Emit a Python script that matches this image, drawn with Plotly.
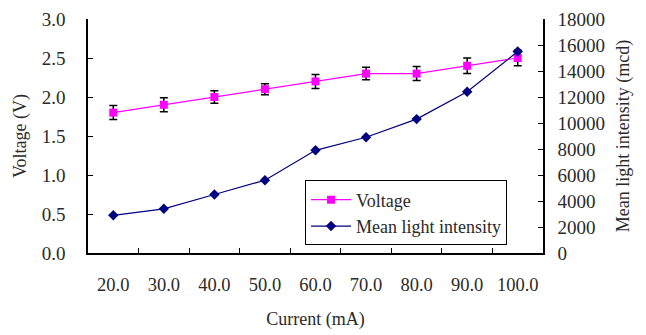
import plotly.graph_objects as go

current_labels = ["20.0", "30.0", "40.0", "50.0", "60.0", "70.0", "80.0", "90.0", "100.0"]
voltage = [1.8, 1.9, 2.0, 2.1, 2.2, 2.3, 2.3, 2.4, 2.5]
voltage_err = [0.09, 0.09, 0.08, 0.07, 0.09, 0.08, 0.09, 0.1, 0.1]
intensity = [2900, 3400, 4500, 5600, 7900, 8900, 10300, 12400, 15500]

FONT = "Liberation Serif"
TXT = "#2a2a2a"
fig = go.Figure()
fig.add_trace(go.Scatter(
    x=current_labels, y=voltage, name="Voltage", mode="lines+markers",
    line=dict(color="#FF00FF", width=1.2),
    marker=dict(symbol="square", size=8, color="#FF00FF"),
    error_y=dict(type="data", array=voltage_err, visible=True, color="black", thickness=1.5, width=4),
))
fig.add_trace(go.Scatter(
    x=current_labels, y=intensity, name="Mean light intensity", mode="lines+markers",
    line=dict(color="#000080", width=1.2),
    marker=dict(symbol="diamond", size=8, color="#000080"),
    yaxis="y2",
))
fig.update_layout(
    width=638, height=327,
    margin=dict(l=80, r=103, t=11, b=82),
    paper_bgcolor="white", plot_bgcolor="white",
    font=dict(family=FONT, size=18, color=TXT),
    showlegend=True,
    legend=dict(x=0.477, y=0.31, xanchor="left", yanchor="top",
                bordercolor="black", borderwidth=1, bgcolor="white",
                font=dict(family=FONT, size=18, color=TXT),
                tracegroupgap=0, itemwidth=40),
    xaxis=dict(type="category", range=[-0.5, 8.5], showline=True, linecolor="black", linewidth=1.5,
               ticks="inside", ticklen=5, tickcolor="black", tickson="boundaries",
               showgrid=False, zeroline=False, ticklabelstandoff=14, tickangle=0, automargin=False,
               tickfont=dict(size=18.5),
               title=dict(text="Current (mA)", standoff=18, font=dict(size=18))),
    yaxis=dict(range=[0, 3], dtick=0.5, tickformat=".1f", showline=True, linecolor="black", linewidth=1.5,
               ticks="inside", ticklen=5, tickcolor="black", showgrid=False, zeroline=False,
               ticklabelstandoff=17, tickfont=dict(size=19), automargin=False,
               ticklabeloverflow="allow",
               title=dict(text="Voltage (V)", standoff=10, font=dict(size=18))),
    yaxis2=dict(range=[0, 18000], dtick=2000, tickformat="d", overlaying="y", side="right", showline=True,
                linecolor="black", linewidth=1.5, ticks="inside", ticklen=5, tickcolor="black",
                showgrid=False, zeroline=False, ticklabelstandoff=9, tickfont=dict(size=19), automargin=False,
                ticklabeloverflow="allow",
                title=dict(text="Mean light intensity (mcd)", standoff=12, font=dict(size=18))),
)
fig.write_html("out.html")
